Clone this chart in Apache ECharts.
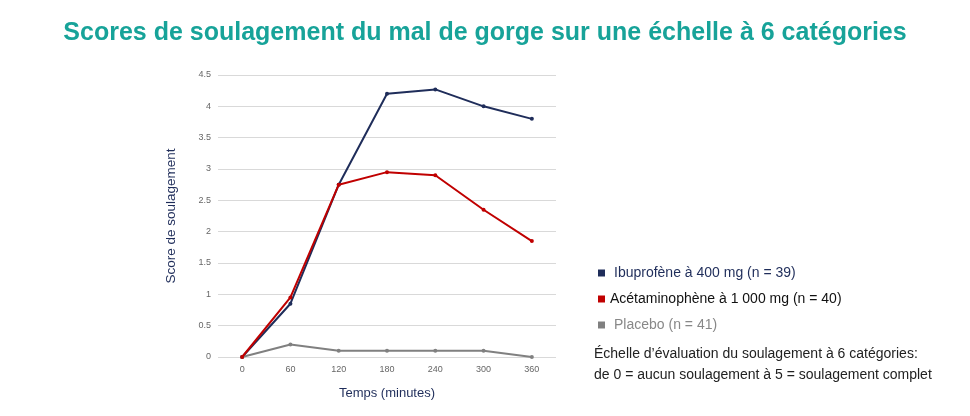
<!DOCTYPE html>
<html>
<head>
<meta charset="utf-8">
<script src="https://cdn.jsdelivr.net/npm/echarts@6/dist/echarts.min.js"></script>
<style>
  html, body { margin: 0; padding: 0; background: #fff; }
  #chart { width: 970px; height: 416px; }
</style>
</head>
<body>
<div id="chart"></div>
<script>
var temps = ['0', '60', '120', '180', '240', '300', '360'];
var ibuprofene = [0, 0.85, 2.75, 4.2, 4.27, 4.0, 3.8];
var acetaminophene = [0, 0.95, 2.75, 2.95, 2.9, 2.35, 1.85];
var placebo = [0, 0.2, 0.1, 0.1, 0.1, 0.1, 0];
var seriesNames = ['Ibuprofène à 400 mg (n = 39)', 'Acétaminophène à 1 000 mg (n = 40)', 'Placebo (n = 41)'];
var notes = ['Échelle d’évaluation du soulagement à 6 catégories:', 'de 0 = aucun soulagement à 5 = soulagement complet'];

var chart = echarts.init(document.getElementById('chart'));

function line(name, data, color) {
  return {
    name: name,
    type: 'line',
    data: data,
    symbol: 'circle',
    symbolSize: 4,
    lineStyle: { color: color, width: 2 },
    itemStyle: { color: color },
    z: name === seriesNames[1] ? 3 : 2
  };
}

var option = {
  backgroundColor: '#fff',
  textStyle: { fontFamily: 'Liberation Sans, Arial, sans-serif' },
  title: {
    text: 'Scores de soulagement du mal de gorge sur une échelle à 6 catégories',
    left: 'center',
    top: 16,
    textStyle: { color: '#17a399', fontSize: 25, fontWeight: 'bold', fontFamily: 'Liberation Sans, Arial, sans-serif' }
  },
  grid: { left: 218, right: 414, top: 75, bottom: 59 },
  xAxis: {
    type: 'category',
    data: temps,
    boundaryGap: true,
    name: 'Temps (minutes)',
    nameLocation: 'middle',
    nameGap: 30,
    nameTextStyle: { color: '#1f2d5a', fontSize: 13 },
    axisLine: { show: false },
    axisTick: { show: false },
    axisLabel: { color: '#666', fontSize: 9, margin: 8 }
  },
  yAxis: {
    type: 'value',
    min: 0,
    max: 4.5,
    interval: 0.5,
    name: 'Score de soulagement',
    nameLocation: 'middle',
    nameGap: 40,
    nameTextStyle: { color: '#1f2d5a', fontSize: 13.5 },
    axisLine: { show: false },
    axisTick: { show: false },
    axisLabel: { color: '#666', fontSize: 9, margin: 7 },
    splitLine: { lineStyle: { color: '#d9d9d9', width: 1 } }
  },
  legend: {
    orient: 'vertical',
    left: 593,
    top: 261,
    itemWidth: 7,
    itemHeight: 7,
    itemGap: 12,
    icon: 'rect',
    textStyle: { fontSize: 14 },
    data: [
      { name: seriesNames[0], textStyle: { color: '#1f2d5a', padding: [0, 0, 0, 4] } },
      { name: seriesNames[1], textStyle: { color: '#111' } },
      { name: seriesNames[2], textStyle: { color: '#888', padding: [0, 0, 0, 4] } }
    ]
  },
  graphic: [
    { type: 'text', left: 594, top: 347, style: { text: notes[0], fill: '#222', fontSize: 14, fontFamily: 'Liberation Sans, Arial, sans-serif' } },
    { type: 'text', left: 594, top: 368, style: { text: notes[1], fill: '#222', fontSize: 14, fontFamily: 'Liberation Sans, Arial, sans-serif' } }
  ],
  series: [
    line(seriesNames[0], ibuprofene, '#1f2d5a'),
    line(seriesNames[1], acetaminophene, '#c00000'),
    line(seriesNames[2], placebo, '#808080')
  ]
};

chart.setOption(option);
</script>
</body>
</html>
